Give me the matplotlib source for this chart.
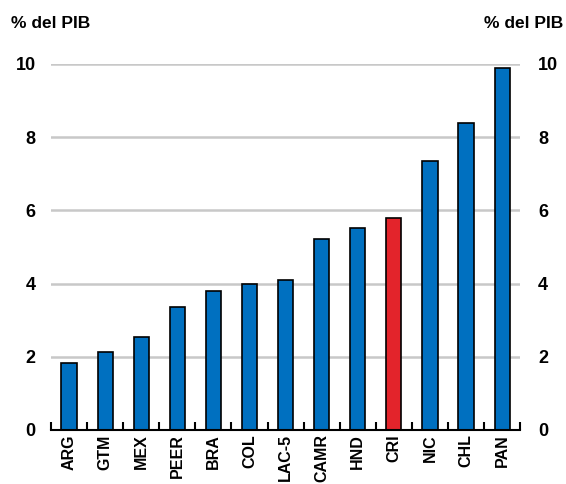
import numpy as np
import matplotlib.pyplot as plt

countries = ["ARG", "GTM", "MEX", "PEER", "BRA", "COL", "LAC-5", "CAMR", "HND", "CRI", "NIC", "CHL", "PAN"]
values = [1.83, 2.13, 2.54, 3.36, 3.80, 3.99, 4.10, 5.22, 5.52, 5.79, 7.35, 8.39, 9.89]
highlight = "CRI"

plt.rcParams['font.family'] = ['Liberation Sans', 'DejaVu Sans']

fig = plt.figure(figsize=(5.66, 4.84), dpi=100)
ax = fig.add_axes([0.09, 0.1116, 0.829, 0.7564])

x = np.arange(len(countries))
colors = ["#E3242B" if c == highlight else "#0070C0" for c in countries]
ax.bar(x, values, width=0.42, color=colors, edgecolor="black", linewidth=1.2, zorder=3)

ax.set_xlim(-0.5, len(countries) - 0.5)
ax.set_ylim(0, 10)
ax.set_yticks([0, 2, 4, 6, 8, 10])
ax.grid(axis="y", color="#C8C8C8", linewidth=1.8, zorder=0)

for s in ["top", "left", "right"]:
    ax.spines[s].set_visible(False)
ax.spines["bottom"].set_linewidth(1.5)
ax.spines["bottom"].set_zorder(4)

# ticks at category boundaries, labels at centres
ax.set_xticks(np.arange(-0.5, len(countries)), minor=False)
ax.set_xticklabels([])
ax.set_xticks(x, minor=True)
ax.set_xticklabels(countries, minor=True, rotation=90, fontsize=11.5, fontweight="bold")
ax.tick_params(axis="x", which="major", direction="in", length=6, width=1.5)
ax.tick_params(axis="x", which="minor", length=0, pad=3)

ax.tick_params(axis="y", length=0, labelsize=13, pad=11)
for lab in ax.get_yticklabels():
    lab.set_fontweight("bold")

ax2 = ax.twinx()
ax2.set_ylim(ax.get_ylim())
ax2.set_yticks([0, 2, 4, 6, 8, 10])
ax2.tick_params(axis="y", length=0, labelsize=13, pad=13)
for lab in ax2.get_yticklabels():
    lab.set_fontweight("bold")
for s in ["top", "left", "right", "bottom"]:
    ax2.spines[s].set_visible(False)

fig.text(0.02, 0.952, "% del PIB", fontsize=12.5, fontweight="bold", ha="left", va="center")
fig.text(0.995, 0.952, "% del PIB", fontsize=12.5, fontweight="bold", ha="right", va="center")

fig.savefig("out.png", dpi=100)
